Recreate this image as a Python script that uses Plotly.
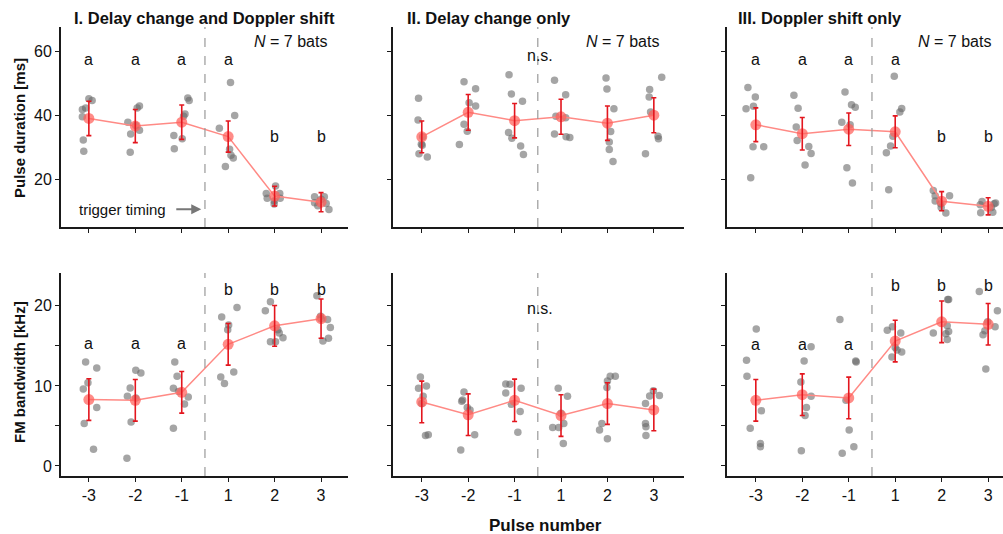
import plotly.graph_objects as go

W, H = 1003, 534
pulses = ["-3", "-2", "-1", "1", "2", "3"]

# ---------------- Pulse duration [ms] ----------------
dur_I = [[45.3, 44.7, 42.4, 41.9, 39.6, 32.3, 28.75],
         [43.0, 42.4, 37.9, 36.9, 35.4, 34.2, 28.5],
         [45.5, 44.7, 40.5, 39.8, 33.75, 32.7, 29.6],
         [50.4, 40.0, 36.0, 29.4, 27.5, 26.7, 24.0],
         [17.9, 15.5, 15.5, 14.0, 13.2, 14.0, 12.2],
         [14.5, 14.5, 13.75, 12.6, 12.4, 11.7, 10.5]]
dur_I_jit = [[0.00, 0.07, -0.07, -0.14, -0.14, -0.12, -0.11],
             [0.09, 0.04, -0.16, 0.01, 0.09, -0.10, -0.11],
             [0.13, 0.16, 0.07, 0.04, -0.17, 0.01, -0.16],
             [0.05, 0.14, -0.19, 0.03, 0.06, 0.11, -0.06],
             [0.02, -0.18, 0.11, -0.16, -0.01, 0.12, -0.01],
             [-0.14, 0.07, 0.00, -0.14, 0.11, -0.07, 0.17]]
dur_I_mean = [39.1, 36.7, 37.9, 33.4, 14.7, 12.8]
dur_I_err = [5.4, 5.2, 5.4, 4.9, 3.1, 3.0]

dur_II = [[45.4, 38.6, 33.3, 31.0, 30.7, 28.0, 27.0],
          [50.6, 48.4, 44.0, 43.0, 37.3, 35.1, 30.9],
          [52.8, 46.8, 44.5, 34.7, 32.9, 30.4, 27.8],
          [51.1, 46.5, 39.8, 39.3, 34.2, 33.3, 33.1],
          [51.8, 48.3, 42.1, 35.0, 31.7, 29.3, 25.6],
          [52.0, 48.2, 45.8, 41.1, 33.5, 32.7, 28.0]]
dur_II_jit = [[-0.07, -0.08, 0.02, -0.01, 0.01, -0.06, 0.12],
              [-0.09, 0.16, 0.02, 0.16, -0.09, -0.02, -0.19],
              [-0.12, -0.07, 0.17, -0.13, -0.06, 0.13, 0.19],
              [-0.14, 0.10, -0.11, 0.10, -0.14, 0.11, 0.19],
              [-0.03, -0.01, 0.14, 0.07, 0.04, 0.04, 0.12],
              [0.17, -0.09, -0.10, -0.07, 0.09, 0.10, -0.18]]
dur_II_mean = [33.3, 41.0, 38.4, 39.6, 37.6, 40.1]
dur_II_err = [5.0, 5.6, 5.4, 5.5, 5.4, 5.5]

dur_III = [[48.8, 45.8, 42.9, 42.1, 30.2, 30.2, 20.5],
           [46.4, 42.3, 36.4, 32.2, 30.3, 28.1, 24.5],
           [47.4, 43.4, 42.6, 37.9, 37.1, 23.6, 18.85],
           [52.3, 42.2, 41.1, 33.5, 30.4, 28.3, 16.7],
           [16.5, 14.8, 14.8, 13.2, 12.3, 11.1, 9.4],
           [13.0, 12.5, 12.3, 12.0, 11.1, 9.5, 9.6]]
dur_III_jit = [[-0.17, -0.01, -0.05, -0.21, -0.06, 0.17, -0.11],
               [-0.18, -0.09, -0.13, -0.11, 0.14, 0.19, 0.06],
               [-0.08, 0.06, 0.14, -0.15, 0.03, -0.04, 0.08],
               [-0.02, 0.14, 0.10, -0.05, -0.10, -0.19, -0.14],
               [-0.18, -0.14, 0.17, -0.14, -0.02, -0.01, 0.09],
               [-0.13, 0.16, 0.13, -0.17, 0.07, -0.16, 0.10]]
dur_III_mean = [37.1, 34.3, 35.7, 34.9, 13.1, 11.5]
dur_III_err = [5.3, 5.1, 5.1, 5.0, 3.0, 2.7]

# ---------------- FM bandwidth [kHz] ----------------
bw_I = [[13.0, 12.25, 10.4, 9.6, 7.3, 5.3, 2.1],
        [11.96, 11.6, 9.75, 8.7, 8.5, 5.5, 0.96],
        [13.0, 11.2, 9.7, 9.3, 8.6, 7.75, 4.7],
        [19.8, 18.6, 17.6, 17.0, 11.75, 11.1, 10.3],
        [20.5, 19.4, 17.0, 16.6, 16.0, 15.5, 15.5],
        [21.25, 18.7, 18.3, 17.3, 15.95, 15.6, 18.4]]
bw_I_jit = [[-0.07, 0.17, -0.02, -0.12, 0.17, -0.10, 0.10],
            [0.01, 0.12, -0.11, -0.17, 0.01, -0.09, -0.18],
            [-0.15, -0.10, -0.18, -0.07, 0.14, 0.06, -0.18],
            [0.19, -0.14, 0.01, -0.01, 0.12, -0.16, -0.08],
            [-0.09, -0.20, 0.07, 0.10, 0.18, -0.09, 0.02],
            [-0.09, -0.01, 0.14, 0.20, 0.16, 0.04, 0.00]]
bw_I_mean = [8.3, 8.2, 9.2, 15.2, 17.5, 18.4]
bw_I_err = [2.6, 2.6, 2.6, 2.6, 2.55, 2.45]

bw_II = [[11.1, 10.0, 9.7, 8.7, 7.8, 3.9, 3.8],
         [9.25, 8.25, 8.1, 7.3, 7.0, 3.9, 2.0],
         [10.25, 10.2, 9.7, 9.1, 7.7, 6.8, 4.2],
         [9.7, 8.7, 6.6, 5.3, 4.8, 4.8, 2.8],
         [11.2, 11.2, 10.6, 9.8, 5.3, 4.5, 3.4],
         [9.4, 8.8, 8.75, 7.8, 5.3, 4.9, 3.8]]
bw_II_jit = [[-0.03, 0.10, -0.07, 0.03, 0.00, 0.14, 0.08],
             [-0.09, -0.12, -0.14, -0.02, 0.04, 0.14, -0.16],
             [-0.19, -0.10, 0.14, -0.19, -0.07, 0.12, 0.07],
             [-0.06, 0.14, 0.00, 0.06, -0.18, -0.05, 0.05],
             [0.06, 0.17, 0.00, -0.01, -0.12, -0.17, 0.00],
             [-0.01, 0.12, -0.09, -0.18, -0.18, -0.17, -0.17]]
bw_II_mean = [8.0, 6.4, 8.2, 6.3, 7.8, 7.0]
bw_II_err = [2.6, 2.6, 2.65, 2.6, 2.6, 2.6]

bw_III = [[17.1, 13.2, 11.2, 6.9, 4.7, 2.8, 2.4],
          [14.9, 13.1, 10.5, 8.7, 7.3, 6.3, 1.9],
          [18.3, 13.1, 13.0, 8.2, 4.5, 2.4, 1.6],
          [17.4, 16.95, 16.6, 14.8, 14.5, 14.25, 13.6],
          [20.8, 20.8, 17.5, 16.8, 16.6, 16.5, 15.8],
          [21.8, 19.4, 18.0, 17.4, 16.9, 16.4, 12.1]]
bw_III_jit = [[0.01, -0.20, -0.19, 0.12, -0.12, 0.10, 0.10],
              [0.19, 0.04, -0.03, 0.19, 0.09, 0.06, -0.02],
              [-0.19, 0.15, 0.16, -0.06, 0.01, 0.11, -0.14],
              [-0.06, -0.17, 0.12, 0.00, 0.04, 0.14, -0.07],
              [0.13, 0.15, 0.12, 0.15, -0.18, 0.09, 0.12],
              [-0.19, 0.20, -0.01, 0.15, -0.07, -0.11, -0.05]]
bw_III_mean = [8.2, 8.9, 8.5, 15.6, 18.0, 17.7]
bw_III_err = [2.6, 2.6, 2.6, 2.6, 2.6, 2.6]

# significance letters
letters_I_dur = ["a", "a", "a", "a", "b", "b"]
letters_III_dur = ["a", "a", "a", "a", "b", "b"]
letters_I_bw = ["a", "a", "a", "b", "b", "b"]
letters_III_bw = ["a", "a", "a", "b", "b", "b"]

titles = ["I. Delay change and Doppler shift", "II. Delay change only", "III. Doppler shift only"]

FONT = "Liberation Sans, Arial, sans-serif"
PT_COLOR = "rgba(105,105,105,0.6)"
MEAN_COLOR = "rgba(255,95,90,0.72)"
LINE_COLOR = "#FF8A85"
ERR_COLOR = "#E3161E"

# panel geometry (pixels)
x_doms_px = [(61, 348), (393, 684), (727, 1003)]
x_ranges = [[-0.6, 5.58], [-0.62, 5.65], [-0.62, 5.32]]
top_px = (27, 227)
bot_px = (273, 476)

def ydom(p):
    return [1 - p[1] / H, 1 - p[0] / H]

fig = go.Figure()

panels = [
    (dur_I, dur_I_jit, dur_I_mean, dur_I_err, 0, 0),
    (dur_II, dur_II_jit, dur_II_mean, dur_II_err, 1, 0),
    (dur_III, dur_III_jit, dur_III_mean, dur_III_err, 2, 0),
    (bw_I, bw_I_jit, bw_I_mean, bw_I_err, 0, 1),
    (bw_II, bw_II_jit, bw_II_mean, bw_II_err, 1, 1),
    (bw_III, bw_III_jit, bw_III_mean, bw_III_err, 2, 1),
]

layout_axes = {}
shapes = []
for k, (vals, jit, mean, err, col, row) in enumerate(panels):
    n = k + 1
    xa = "x" if n == 1 else f"x{n}"
    ya = "y" if n == 1 else f"y{n}"
    xs, ys = [], []
    for i, (vv, jj) in enumerate(zip(vals, jit)):
        for v, j in zip(vv, jj):
            xs.append(i + j)
            ys.append(v)
    fig.add_trace(go.Scatter(x=xs, y=ys, mode="markers", xaxis=xa, yaxis=ya,
                             marker=dict(size=7.5, color=PT_COLOR, line=dict(width=0)),
                             showlegend=False, hoverinfo="skip"))
    idx = list(range(len(pulses)))
    fig.add_trace(go.Scatter(x=idx, y=mean, mode="lines+markers", xaxis=xa, yaxis=ya,
                             line=dict(color=LINE_COLOR, width=1.5),
                             marker=dict(size=11, color=MEAN_COLOR, line=dict(width=0)),
                             showlegend=False, hoverinfo="skip"))
    fig.add_trace(go.Scatter(x=idx, y=mean, mode="markers", xaxis=xa, yaxis=ya,
                             marker=dict(size=2, color="rgba(0,0,0,0)"),
                             error_y=dict(type="data", array=err, color=ERR_COLOR,
                                          thickness=1.6, width=2.5),
                             showlegend=False, hoverinfo="skip"))
    xd = [x_doms_px[col][0] / W, x_doms_px[col][1] / W]
    axis_common = dict(showline=True, linecolor="#1a1a1a", linewidth=2,
                       ticks="outside", ticklen=4, tickwidth=1, tickcolor="#1a1a1a",
                       showgrid=False, zeroline=False,
                       tickfont=dict(family=FONT, size=16, color="#111"))
    xkey = "xaxis" if n == 1 else f"xaxis{n}"
    ykey = "yaxis" if n == 1 else f"yaxis{n}"
    layout_axes[xkey] = dict(axis_common, domain=xd, range=x_ranges[col], anchor=ya,
                             tickvals=idx, ticktext=pulses if row == 1 else [""] * 6)
    if row == 0:
        layout_axes[ykey] = dict(axis_common, domain=ydom(top_px), range=[5, 67.8], anchor=xa,
                                 tickvals=[20, 40, 60],
                                 ticktext=["20", "40", "60"] if col == 0 else ["", "", ""])
    else:
        layout_axes[ykey] = dict(axis_common, domain=ydom(bot_px), range=[-1.25, 24.1], anchor=xa,
                                 tickvals=[0, 5, 10, 15, 20],
                                 ticktext=["0", "", "10", "", "20"] if col == 0 else [""] * 5)
    shapes.append(dict(type="line", xref=xa, yref=f"{ya} domain", x0=2.5, x1=2.5, y0=0, y1=1,
                       line=dict(color="#999999", width=1.2, dash="dash")))

ann = []
def txt(t, xref, yref, x, y, size=16, **kw):
    d = dict(text=t, xref=xref, yref=yref, x=x, y=y, showarrow=False,
             xanchor="center", yanchor="middle",
             font=dict(family=FONT, size=size, color="#111"))
    d.update(kw)
    ann.append(d)

# letters
for i, l in enumerate(letters_I_dur):
    txt(l, "x", "y", i, 57.5 if l == "a" else 33.4)
for i, l in enumerate(letters_III_dur):
    txt(l, "x3", "y3", i, 57.5 if l == "a" else 33.4)
for i, l in enumerate(letters_I_bw):
    txt(l, "x4", "y4", i, 15.3 if l == "a" else 22.1)
for i, l in enumerate(letters_III_bw):
    txt(l, "x6", "y6", i, 15.2 if l == "a" else 22.5)
txt("n.s.", "x2", "y2", 2.55, 58.7)
txt("n.s.", "x5", "y5", 2.55, 19.7)

# N = 7 bats
for xr in [329, 661, 993]:
    txt("<i>N</i> = 7 bats", "paper", "paper", xr / W, 1 - 42 / H, size=16, xanchor="right")

# panel titles
for t, x0 in zip(titles, [72, 405, 736]):
    txt(f"<b>{t}</b>", "paper", "paper", x0 / W, 1 - 18 / H, size=16.5, xanchor="left")

# trigger timing
txt("trigger timing", "x", "y", 0.72, 10.6, size=15)
ann.append(dict(text="", xref="x", yref="y", x=2.42, y=10.6, ax=1.85, ay=10.6,
                axref="x", ayref="y", showarrow=True, arrowhead=2, arrowsize=1,
                arrowwidth=2, arrowcolor="#777777"))

# axis titles
txt("<b>Pulse duration [ms]</b>", "paper", "paper", 19 / W, 1 - 128 / H, size=15, textangle=-90)
txt("<b>FM bandwidth [kHz]</b>", "paper", "paper", 19 / W, 1 - 372 / H, size=15, textangle=-90)
txt("<b>Pulse number</b>", "paper", "paper", 545 / W, 1 - 525 / H, size=17)

fig.update_layout(width=W, height=H, margin=dict(l=0, r=0, t=0, b=0),
                  paper_bgcolor="white", plot_bgcolor="white",
                  font=dict(family=FONT, size=14, color="#111"),
                  annotations=ann, shapes=shapes, **layout_axes)

fig.write_html("out.html", config={"displayModeBar": False},
               post_script="document.body.style.margin='0';document.body.style.overflow='hidden';")
